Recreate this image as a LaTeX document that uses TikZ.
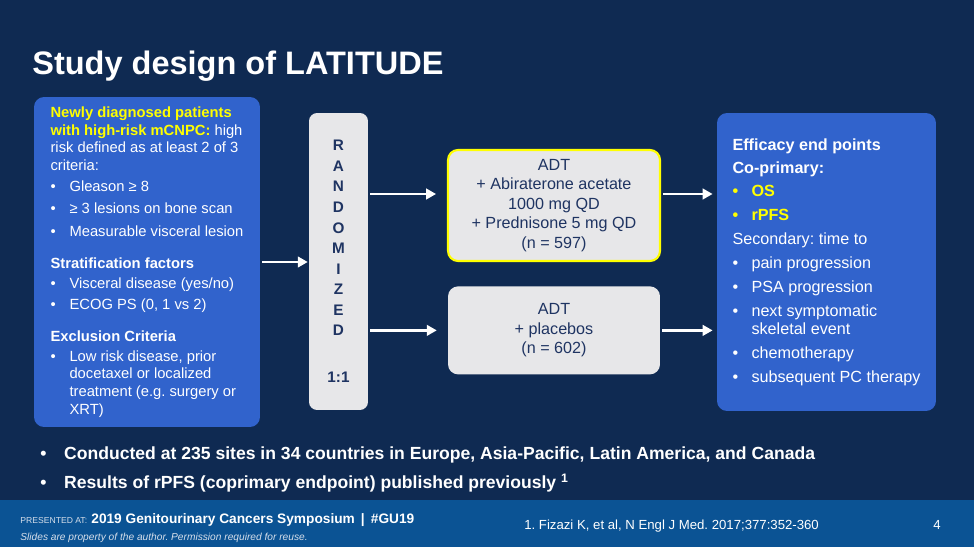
\documentclass[tikz,border=0pt]{standalone}
\usepackage{fontspec}
\setmainfont{Liberation Sans}
\usetikzlibrary{arrows.meta,positioning}

\definecolor{slidebg}{HTML}{0F2A52}
\definecolor{footbg}{HTML}{0B5394}
\definecolor{boxblue}{HTML}{3163CC}
\definecolor{boxgray}{HTML}{E7E7E9}
\definecolor{navytext}{HTML}{1F3462}
\definecolor{hiyellow}{HTML}{FFFF00}
\definecolor{footgray}{HTML}{D5DEEA}

\newcommand{\bul}[1][10.8pt]{\makebox[#1][l]{\textbullet}}
\newcommand{\bulcont}{\hspace*{10.8pt}}
\frenchspacing

\tikzset{
  bluebox/.style={fill=boxblue, rounded corners=0.2cm, text=white, align=left},
  randbox/.style={fill=boxgray, rounded corners=0.16cm, text=navytext, align=center,
    font=\bfseries\fontsize{8.7}{11.7}\selectfont},
  armbox/.style={fill=boxgray, rounded corners=0.2cm, text=navytext, align=center,
    minimum width=4.24cm, font=\fontsize{9.2}{11.1}\selectfont},
  txt/.style={inner sep=0pt, anchor=base west, text=white},
  arr/.style={draw=white, line width=1.7pt, -{Triangle[length=5.7pt,width=6pt]}},
}

\begin{document}
\begin{tikzpicture}[x=0.02cm, y=-0.02cm]

%Background and footer band.
\useasboundingbox (0,0) rectangle (974,547);
\fill[slidebg] (0,0) rectangle (974,547);
\fill[footbg] (0,500) rectangle (974,547);

%Declare nodes.
\node[txt, font=\bfseries\fontsize{18.5}{22}\selectfont] (title) at (32,75) {Study design of LATITUDE};

\node[bluebox, minimum width=4.52cm, minimum height=6.6cm, font=\fontsize{8.4}{10}\selectfont] (elig) at (147,262) {%
{\color{hiyellow}\bfseries Newly diagnosed patients}\\
{\color{hiyellow}\bfseries with high-risk mCNPC:} high\\
risk defined as at least 2 of 3\\
criteria:\\[2pt]
\bul Gleason ≥ 8\\[2.6pt]
\bul ≥ 3 lesions on bone scan\\[3pt]
\bul Measurable visceral lesion\\[8.2pt]
{\bfseries Stratification factors}\\[1.4pt]
\bul Visceral disease (yes/no)\\[2pt]
\bul ECOG PS (0, 1 vs 2)\\[8.2pt]
{\bfseries Exclusion Criteria}\\[1.4pt]
\bul Low risk disease, prior\\
\bulcont docetaxel or localized\\
\bulcont treatment (e.g. surgery or\\
\bulcont XRT)};

\node[randbox, minimum width=1.18cm, minimum height=5.94cm] (rand) at (338.5,261.5)
  {R\\A\\N\\D\\O\\M\\I\\Z\\E\\D\\[15pt]1:1};

\node[armbox, minimum height=2.22cm, draw=hiyellow, line width=1.2pt] (arm1) at (554,205.5)
  {ADT\\+ Abiraterone acetate\\1000 mg QD\\+ Prednisone 5 mg QD\\(n = 597)};
\node[armbox, minimum height=1.76cm, below=0.48cm of arm1] (arm2)
  {ADT\\+ placebos\\(n = 602)};

\node[bluebox, minimum width=4.38cm, minimum height=5.96cm, font=\fontsize{9.2}{10.2}\selectfont] (endp) at (826.5,262) {%
{\bfseries Efficacy end points}\\[2.8pt]
{\bfseries Co-primary:}\\[3.4pt]
{\color{hiyellow}\bfseries\bul OS}\\[3.4pt]
{\color{hiyellow}\bfseries\bul rPFS}\\[3.4pt]
Secondary: time to\\[3.4pt]
\bul pain progression\\[3.4pt]
\bul PSA progression\\[3.4pt]
\bul next symptomatic\\
\bulcont skeletal event\\[3.4pt]
\bul chemotherapy\\[3.4pt]
\bul subsequent PC therapy};

\node[txt, font=\bfseries\fontsize{10}{12}\selectfont] (note1) at (40,459)
  {\bul[13.6pt]Conducted at 235 sites in 34 countries in Europe, Asia-Pacific, Latin America, and Canada};
\node[txt, font=\bfseries\fontsize{10}{12}\selectfont] (note2) at ([yshift=-17pt]note1.base west)
  {\bul[13.6pt]Results of rPFS (coprimary endpoint) published previously \textsuperscript{1}};

%Footer.
\node[txt, text=footgray, font=\fontsize{4.9}{6}\selectfont] (presat) at (20,523) {PRESENTED AT:};
\node[txt, font=\bfseries\fontsize{7.8}{9}\selectfont, right=2pt of presat.base east, anchor=base west] (symp)
  {2019 Genitourinary Cancers Symposium \,|\, \#GU19};
\node[txt, text=footgray, font=\itshape\fontsize{5.8}{7}\selectfont] (rights) at (20,540)
  {Slides are property of the author. Permission required for reuse.};
\node[txt, font=\fontsize{7.5}{9}\selectfont] (cite) at (524,529) {1. Fizazi K, et al, N Engl J Med. 2017;377:352-360};
\node[txt, anchor=base, font=\fontsize{7.5}{9}\selectfont] (pgnum) at (937,529) {4};

%Setup edges.
\coordinate (a1in) at ([yshift=0.23cm]arm1.west);
\coordinate (a1out) at ([yshift=0.23cm]arm1.east);
\draw[arr, shorten <=1pt, shorten >=0.5pt] (elig.east) -- (elig.east -| rand.west);
\draw[arr, shorten <=1.1pt, shorten >=6.2pt] (rand.east |- a1in) -- (a1in);
\draw[arr, shorten <=1.1pt, shorten >=6.2pt] (rand.east |- arm2) -- (arm2.west);
\draw[arr, shorten <=1pt, shorten >=2.3pt] (a1out) -- (a1out -| endp.west);
\draw[arr, shorten <=1pt, shorten >=2.3pt] (arm2.east) -- (arm2.east -| endp.west);

\end{tikzpicture}
\end{document}
